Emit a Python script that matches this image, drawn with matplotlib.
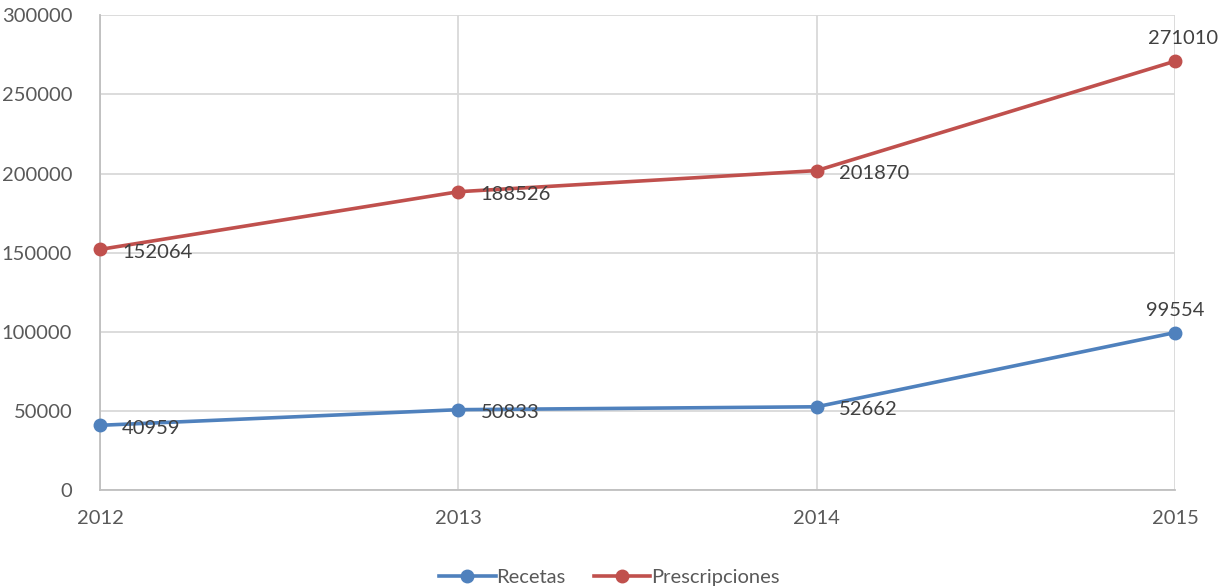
import matplotlib
matplotlib.use("Agg")
import matplotlib.pyplot as plt

years = ["2012", "2013", "2014", "2015"]
recetas = [40959, 50833, 52662, 99554]
prescripciones = [152064, 188526, 201870, 271010]

plt.rcParams['font.family'] = ['Lato', 'DejaVu Sans']
txt = '#595959'

fig = plt.figure(figsize=(12.19, 5.87), dpi=100)
ax = fig.add_axes([0.082, 0.165, 0.882, 0.809])

x = list(range(len(years)))
ax.plot(x, recetas, color='#4F81BD', lw=2.6, marker='o', ms=9, label='Recetas', zorder=3, clip_on=False)
ax.plot(x, prescripciones, color='#C0504D', lw=2.6, marker='o', ms=9, label='Prescripciones', zorder=3, clip_on=False)

# labels: right of the point, last one above
for series in (recetas, prescripciones):
    for i, v in enumerate(series):
        if i == len(series) - 1:
            dx = 6 if v > 200000 else 0
            ax.annotate(str(v), (i, v), xytext=(dx, 10), textcoords='offset points',
                        ha='center', va='bottom', fontsize=14.5, color='#404040')
        else:
            ax.annotate(str(v), (i, v), xytext=(16, -2), textcoords='offset points',
                        ha='left', va='center', fontsize=14.5, color='#404040')

ax.set_xlim(0, 3)
ax.set_ylim(0, 300000)
ax.set_yticks(range(0, 300001, 50000))
ax.set_xticks(x)
ax.set_xticklabels(years)
ax.grid(True, color='#d9d9d9', lw=1.3)
ax.set_axisbelow(True)
for s in ('top', 'right'):
    ax.spines[s].set_visible(False)
for s in ('left', 'bottom'):
    ax.spines[s].set_color('#bfbfbf')
    ax.spines[s].set_linewidth(1.3)
ax.tick_params(length=0, labelsize=14.5, colors=txt, pad=14)
ax.tick_params(axis='y', pad=20)

fig.legend(loc='lower center', bbox_to_anchor=(0.5, -0.03), ncol=2, frameon=False,
           fontsize=14.5, labelcolor=txt, handlelength=2.8, handletextpad=0.05, columnspacing=1.4)

fig.savefig('out.png', dpi=100)
